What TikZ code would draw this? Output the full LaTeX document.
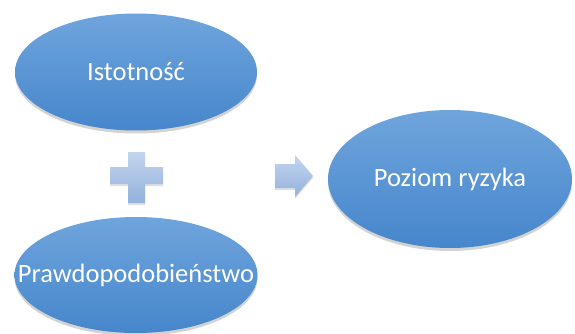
\documentclass[tikz,border=0pt]{standalone}
\usepackage{fontspec}
\setmainfont{Carlito}
\usetikzlibrary{shapes.geometric,shadows}
\definecolor{elltop}{HTML}{6FA5DD}
\definecolor{ellbot}{HTML}{4686CB}
\definecolor{symtop}{HTML}{C4D5EE}
\definecolor{symbot}{HTML}{93B1DD}
\tikzset{
  blob/.style={ellipse, inner sep=0pt, top color=elltop, bottom color=ellbot,
    draw=none, drop shadow={opacity=0.35, shadow xshift=0pt, shadow yshift=-3pt}},
  lbl/.style={text=white, inner sep=0pt, font=\fontsize{26.5}{30}\selectfont},
  sym/.style={top color=symtop, bottom color=symbot, draw=none,
    drop shadow={opacity=0.25, shadow xshift=0pt, shadow yshift=-2pt}}
}
\begin{document}
\begin{tikzpicture}[x=1pt,y=1pt]
\useasboundingbox (0,0) rectangle (575,-334);
\node[blob, minimum width=242pt, minimum height=117pt] (ist) at (136,-72) {};
\node[lbl] (istT) at (ist.center) {Istotność};
\node[blob, minimum width=243pt, minimum height=116pt] (praw) at (136,-275) {};
\node[lbl] (prawT) at (praw.center) {Prawdopodobieństwo};
\node[blob, minimum width=244pt, minimum height=138pt] (poz) at (450,-179) {};
\node[lbl] (pozT) at (poz.center) {Poziom ryzyka};
% plus sign
\path[sym] (128,-152) -- (145,-152) -- (145,-167) -- (163,-167) -- (163,-184) -- (145,-184)
  -- (145,-203) -- (128,-203) -- (128,-184) -- (110,-184) -- (110,-167) -- (128,-167) -- cycle;
% arrow
\path[sym] (275,-164) -- (295,-164) -- (295,-155) -- (313,-176) -- (295,-197) -- (295,-188)
  -- (275,-188) -- cycle;
\end{tikzpicture}
\end{document}
